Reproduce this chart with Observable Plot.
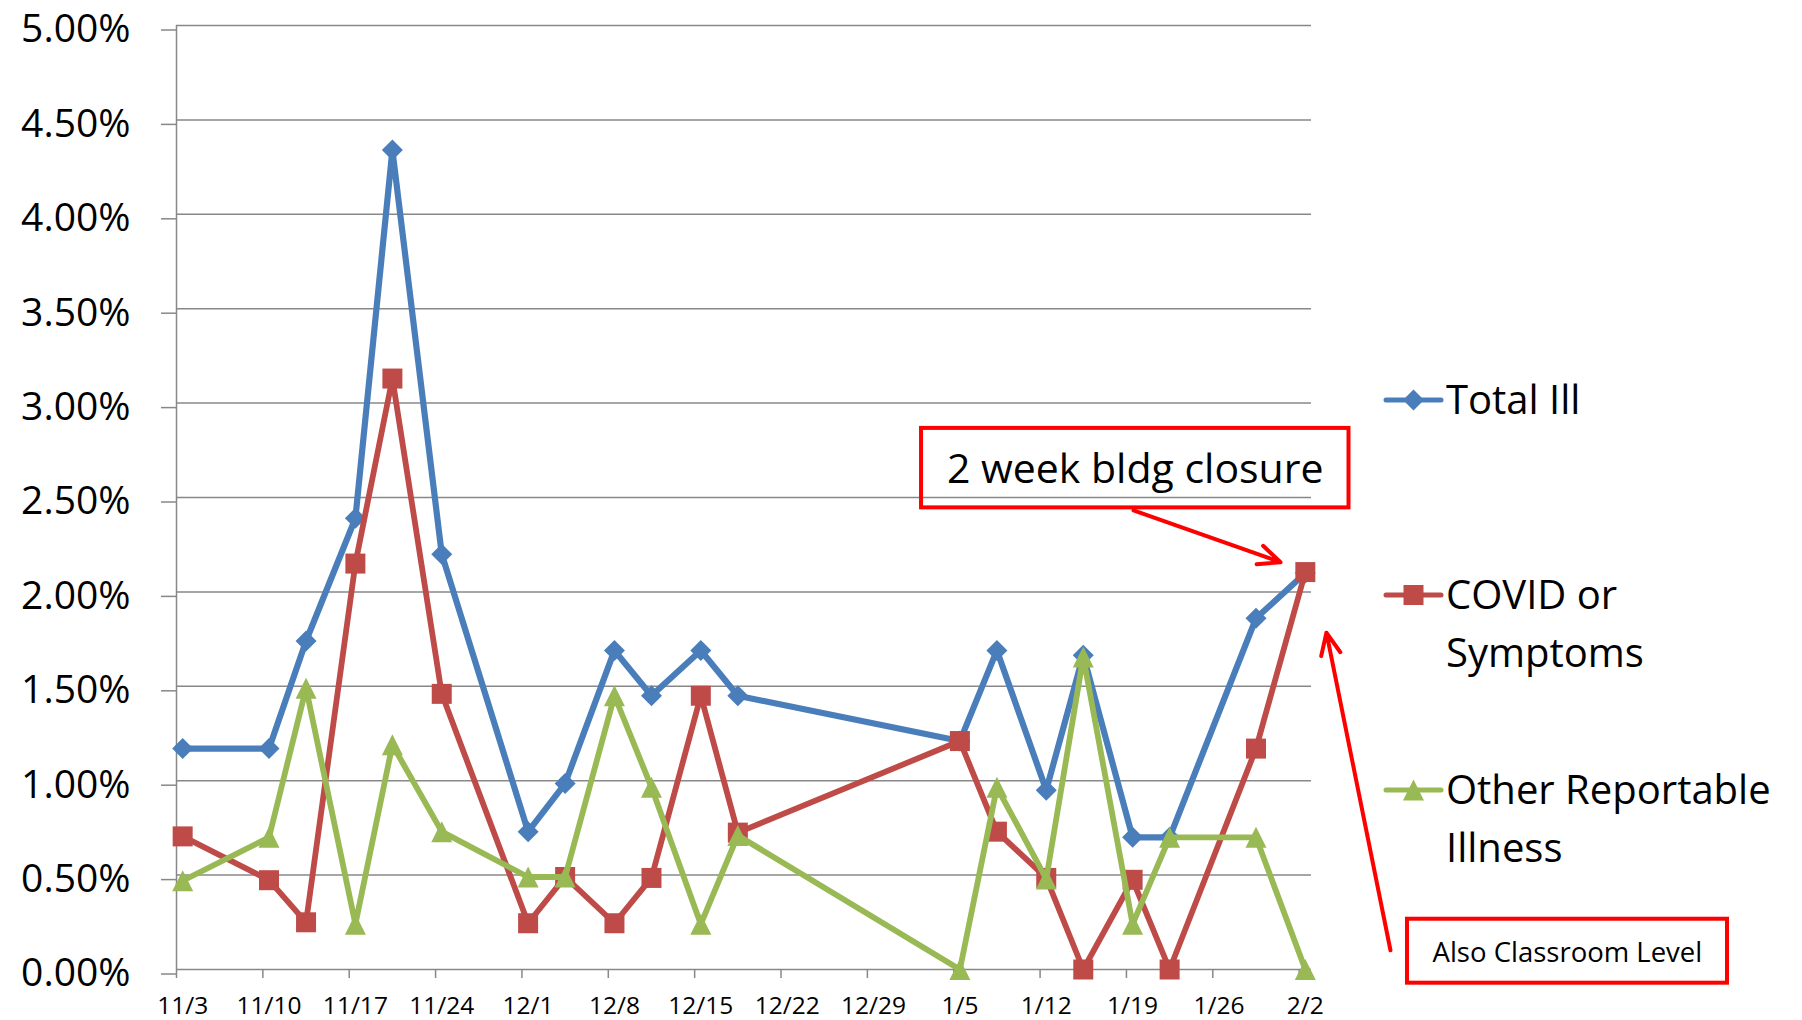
<!DOCTYPE html>
<html>
<head>
<meta charset="utf-8">
<script src="https://cdn.jsdelivr.net/npm/d3@7"></script>
<script src="https://cdn.jsdelivr.net/npm/@observablehq/plot@0.6"></script>
<style>
  html, body { margin: 0; padding: 0; background: #ffffff; }
  #chart { position: relative; width: 1802px; height: 1020px; overflow: hidden; background: #fff; }
</style>
</head>
<body>
<div id="chart"></div>
<script>
// ---- data (percent values) ----
const dates = ["2020-11-03","2020-11-10","2020-11-13","2020-11-17","2020-11-20","2020-11-24",
               "2020-12-01","2020-12-04","2020-12-08","2020-12-11","2020-12-15","2020-12-18",
               "2021-01-05","2021-01-08","2021-01-12","2021-01-15","2021-01-19","2021-01-22",
               "2021-01-29","2021-02-02"];
const totalIll        = [1.17, 1.17, 1.74, 2.39, 4.34, 2.20, 0.73, 0.985, 1.69, 1.45, 1.69, 1.45, 1.21, 1.69, 0.95, 1.665, 0.70, 0.70, 1.86, 2.10];
const covidOrSymptoms = [0.705, 0.473, 0.25, 2.15, 3.13, 1.46, 0.245, 0.49, 0.245, 0.485, 1.45, 0.725, 1.21, 0.73, 0.485, 0, 0.475, 0, 1.17, 2.105];
const otherReportable = [0.47, 0.70, 1.49, 0.24, 1.19, 0.73, 0.49, 0.49, 1.45, 0.965, 0.24, 0.71, 0, 0.965, 0.48, 1.655, 0.24, 0.70, 0.70, 0];

const seriesNames  = ["Total Ill", "COVID or Symptoms", "Other Reportable Illness"];
const legendLines  = [["Total Ill"], ["COVID or", "Symptoms"], ["Other Reportable", "Illness"]];
const seriesColors = ["#4A7EBB", "#BE4B48", "#98B954"];

const yTicks     = [0, 0.5, 1, 1.5, 2, 2.5, 3, 3.5, 4, 4.5, 5];
const weekLabels = ["11/3","11/10","11/17","11/24","12/1","12/8","12/15","12/22","12/29","1/5","1/12","1/19","1/26","2/2"];
const axisStart  = "2020-11-03";
const axisEnd    = "2021-02-03";

// annotations, in data units: x = days after axisStart, y = percent
const annoBoxes  = [{x1: 60.39, x2: 95.04, y1: 2.445, y2: 2.866},
                    {x1: 99.78, x2: 125.72, y1: -0.0725, y2: 0.2663}];
const annoTexts  = [{x: 77.71, y: 2.575, text: "2 week bldg closure", size: 41},
                    {x: 112.74, y: 0.040, text: "Also Classroom Level", size: 27.5}];
const annoArrows = [{x1: 77.57, y1: 2.432, x2: 89.49, y2: 2.157},
                    {x1: 98.40, y1: 0.102, x2: 93.21, y2: 1.784}];

// ---- helpers ----
const DAY = 864e5;
const t0 = new Date(axisStart + "T00:00:00Z");
const t1 = new Date(axisEnd + "T00:00:00Z");
const atDay = (n) => new Date(t0.getTime() + n * DAY);
const pct = (v) => v / 100;

const weekStarts = weekLabels.map((l) => {
  const [m, d] = l.split("/").map(Number);
  return new Date(Date.UTC(m >= 8 ? 2020 : 2021, m - 1, d));
});
const weekCenters = weekStarts.map((d) => new Date(d.getTime() + DAY / 2));
const labelByTime = new Map(weekCenters.map((d, i) => [d.getTime(), weekLabels[i]]));

const seriesValues = [totalIll, covidOrSymptoms, otherReportable];
const rowsFor = (vals) => dates.map((d, i) => ({date: new Date(d + "T12:00:00Z"), value: pct(vals[i])}));

// custom symbols (r = sqrt(size/pi) is the half-extent)
const half = (size) => Math.sqrt(size / Math.PI);
const diamondSym = {draw(c, size) { const r = half(size); c.moveTo(0, -r); c.lineTo(r, 0); c.lineTo(0, r); c.lineTo(-r, 0); c.closePath(); }};
const squareSym = {draw(c, size) { const r = half(size); c.rect(-r, -r, 2 * r, 2 * r); }};
const triangleSym = {draw(c, size) { const r = half(size); c.moveTo(0, -r); c.lineTo(r, r); c.lineTo(-r, r); c.closePath(); }};
const symbols = [diamondSym, squareSym, triangleSym];
const symbolR = [10.5, 10, 10.5];
const lineW = [6.2, 5.8, 5.8];

const GRID = "#888888";
const RED = "#FF0000";

const seriesMarks = seriesValues.flatMap((vals, i) => {
  const rows = rowsFor(vals);
  return [
    Plot.line(rows, {x: "date", y: "value", stroke: seriesColors[i], strokeWidth: lineW[i], strokeLinejoin: "round", strokeLinecap: "round"}),
    Plot.dot(rows, {x: "date", y: "value", symbol: symbols[i], r: symbolR[i], fill: seriesColors[i], stroke: "none"})
  ];
});

const plot = Plot.plot({
  width: 1802,
  height: 1020,
  marginLeft: 176,
  marginRight: 491,
  marginTop: 25,
  marginBottom: 51,
  style: {fontFamily: "'Open Sans', sans-serif", fontSize: "25px", background: "#ffffff", color: "#000000", overflow: "visible"},
  x: {type: "utc", domain: [t0, t1]},
  y: {type: "linear", domain: [0, 0.05]},
  marks: [
    Plot.gridY(yTicks.map(pct), {stroke: GRID, strokeOpacity: 1, strokeWidth: 1.5}),
    Plot.ruleX([t0], {stroke: GRID, strokeWidth: 1.5}),
    Plot.axisY(yTicks.map(pct), {tickSize: 15, tickPadding: 31, stroke: GRID, strokeWidth: 1.5, fontSize: 39, dy: 4.5,
      tickFormat: d3.format(".2%"), label: null, fill: "#000"}),
    Plot.axisX(weekStarts, {tickSize: 9, tickPadding: 0, stroke: GRID, strokeWidth: 1.5, tickFormat: () => "", label: null}),
    Plot.axisX(weekCenters, {tickSize: 0, tickPadding: 27, fontSize: 24.5, tickFormat: (d) => labelByTime.get(d.getTime()), label: null, fill: "#000"}),
    ...seriesMarks,
    Plot.rect(annoBoxes, {x1: (d) => atDay(d.x1), x2: (d) => atDay(d.x2), y1: (d) => pct(d.y1), y2: (d) => pct(d.y2),
      fill: "none", stroke: RED, strokeWidth: 4}),
    Plot.text(annoTexts, {x: (d) => atDay(d.x), y: (d) => pct(d.y), text: "text", fontSize: "size",
      textAnchor: "middle", lineAnchor: "bottom", fill: "#000"}),
    Plot.arrow(annoArrows, {x1: (d) => atDay(d.x1), y1: (d) => pct(d.y1), x2: (d) => atDay(d.x2), y2: (d) => pct(d.y2),
      stroke: RED, strokeWidth: 4, headLength: 9, headAngle: 48})
  ]
});

document.getElementById("chart").appendChild(plot);

// ---- legend (right side) ----
const legendX = 1386, legendW = 55, legendTextX = 1446;
const legendY = [400, 595, 790];
const lineGap = 58;
const lg = d3.select(plot).append("g")
  .attr("font-family", "'Open Sans', sans-serif")
  .attr("font-size", 40)
  .attr("text-anchor", "start")
  .attr("fill", "#000");
seriesNames.forEach((name, i) => {
  const cy = legendY[i];
  lg.append("line")
    .attr("x1", legendX).attr("x2", legendX + legendW)
    .attr("y1", cy).attr("y2", cy)
    .attr("stroke", seriesColors[i]).attr("stroke-width", 5).attr("stroke-linecap", "round");
  lg.append("path")
    .attr("transform", `translate(${legendX + legendW / 2},${cy})`)
    .attr("d", d3.symbol(symbols[i], Math.PI * symbolR[i] * symbolR[i])())
    .attr("fill", seriesColors[i]);
  legendLines[i].forEach((t, j) => {
    lg.append("text").attr("x", legendTextX).attr("y", cy + 14 + j * lineGap).text(t);
  });
});
</script>
</body>
</html>
